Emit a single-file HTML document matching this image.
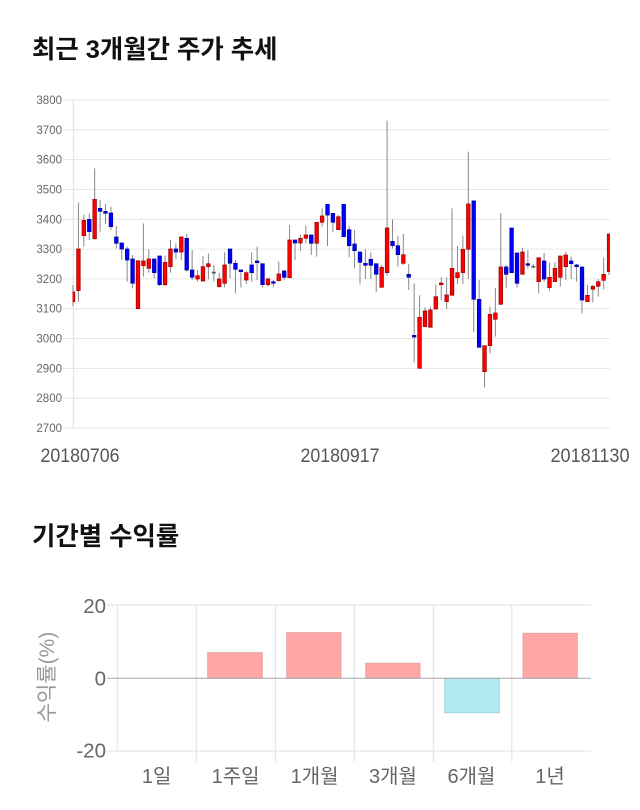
<!DOCTYPE html>
<html><head><meta charset="utf-8"><style>
html,body{margin:0;padding:0;background:#fff;}
svg{display:block;}
.t{font-family:"Liberation Sans","Noto Sans CJK KR",sans-serif;}
.w{fill:none;stroke:#888;stroke-width:1;vector-effect:non-scaling-stroke;}
.r{fill:#f00;stroke:#990000;stroke-width:0.7;vector-effect:non-scaling-stroke;}
.b{fill:#0000ff;stroke:#000099;stroke-width:0.7;vector-effect:non-scaling-stroke;}
.g{fill:#666;stroke:#555;stroke-width:0.5;vector-effect:non-scaling-stroke;}
</style></head><body>
<svg width="640" height="810" viewBox="0 0 640 810" xmlns="http://www.w3.org/2000/svg">
<rect width="640" height="810" fill="#fff"/>
<text class="t" x="32" y="58" font-size="25.4" font-weight="bold" fill="#111">최근 3개월간 주가 추세</text>
<path d="M63 100H610M63 129.8H610M63 159.6H610M63 189.5H610M63 219.3H610M63 249.1H610M63 278.9H610M63 308.7H610M63 338.5H610M63 368.4H610M63 398.2H610M63 428H610" stroke="#e6e6e6" stroke-width="1" fill="none"/>
<line x1="73.3" x2="73.3" y1="100" y2="428" stroke="#e0e0e0"/>
<g class="t" font-size="11.5" fill="#666" text-anchor="end">
<text x="62" y="104">3800</text><text x="62" y="133.8">3700</text><text x="62" y="163.6">3600</text><text x="62" y="193.5">3500</text><text x="62" y="223.3">3400</text><text x="62" y="253.1">3300</text><text x="62" y="282.9">3200</text><text x="62" y="312.7">3100</text><text x="62" y="342.5">3000</text><text x="62" y="372.4">2900</text><text x="62" y="402.2">2800</text><text x="62" y="432">2700</text>
</g>
<defs><clipPath id="cp"><rect x="72.5" y="90" width="537.5" height="350"/></clipPath></defs>
<g clip-path="url(#cp)">
<g transform="matrix(1 0 0 0.333333 0 80)">
<path class="w" d="M73 615V678M78.42 368V665M83.83 403V500M89.25 400V480M94.66 265V480M100.08 360V455M105.49 372V432M110.91 380V450M116.32 438V505M121.74 489V540M127.15 500V605M132.57 525V625M137.98 542V686M143.4 430V590M148.81 508V578M154.23 537V595M159.64 528V618M165.06 527V618M170.47 480V578M175.89 490V537M181.3 470V540M186.72 462V575M192.13 510V600M197.55 570V605M202.96 528V605M208.38 520V598M213.79 555V605M219.21 578V622M224.62 517V622M230.04 507V595M235.45 540V640M240.87 570V622M246.28 574V612M251.7 517V605M257.11 500V600M262.53 551V622M267.94 592V620M273.36 600V622M278.77 545V605M284.19 570V600M289.6 435V593M295.02 480V540M300.43 465V512M305.85 437V490M311.26 465V525M316.68 427V530M322.09 385V440M327.51 373V498M332.92 400V457M338.34 405V449M343.75 373V470M349.17 437V532M354.58 450V565M360 516V613M365.41 508V597M370.83 517V597M376.24 551V636M381.66 555V622M387.07 122V587M392.49 418V505M397.9 467V560M403.32 462V555M408.73 552V630M414.15 610V848M419.56 646V865M424.98 682V740M430.39 680V742M435.81 614V687M441.22 591V660M446.64 592V687M452.05 385V646M457.47 498V612M462.88 467V612M468.3 215V597M473.71 360V757M479.13 600V802M484.54 797V922M489.96 680V820M495.37 624V770M500.79 399V673M506.2 555V623M511.62 444V578M517.03 519V622M522.45 503V583M527.86 510V565M533.28 552V565M538.69 533V640M544.11 519V605M549.52 548V632M554.94 547V605M560.35 528V620M565.77 515V600M571.18 530V597M576.6 552V605M582.01 561V700M587.43 615V665M592.84 614V667M598.26 597V650M603.67 533V628M609.09 462V585"/>
<path class="r" d="M71.2 636h3.6v29h-3.6zM76.62 507h3.6v125h-3.6zM82.03 421h3.6v46h-3.6zM92.86 358h3.6v118h-3.6zM136.18 542h3.6v144h-3.6zM141.6 543h3.6v14h-3.6zM147.01 537h3.6v28h-3.6zM163.26 547h3.6v67h-3.6zM168.67 507h3.6v53h-3.6zM179.5 471h3.6v45h-3.6zM195.75 587h3.6v10h-3.6zM201.16 560h3.6v43h-3.6zM206.58 551h3.6v9h-3.6zM217.41 597h3.6v23h-3.6zM222.82 555h3.6v55h-3.6zM244.48 578h3.6v22h-3.6zM266.14 597h3.6v17h-3.6zM276.97 582h3.6v20h-3.6zM287.8 480h3.6v113h-3.6zM298.63 475h3.6v14h-3.6zM304.05 465h3.6v10h-3.6zM314.88 427h3.6v63h-3.6zM320.29 408h3.6v19h-3.6zM336.54 410h3.6v39h-3.6zM379.86 562h3.6v60h-3.6zM385.27 444h3.6v134h-3.6zM401.52 524h3.6v26h-3.6zM417.76 712h3.6v153h-3.6zM423.18 693h3.6v47h-3.6zM428.59 690h3.6v52h-3.6zM434.01 650h3.6v37h-3.6zM439.42 609h3.6v5h-3.6zM444.84 645h3.6v20h-3.6zM450.25 565h3.6v81h-3.6zM455.67 578h3.6v15h-3.6zM461.08 508h3.6v70h-3.6zM466.5 372h3.6v136h-3.6zM482.74 797h3.6v78h-3.6zM488.16 703h3.6v94h-3.6zM493.57 699h3.6v19h-3.6zM498.99 561h3.6v112h-3.6zM520.65 516h3.6v67h-3.6zM536.89 533h3.6v72h-3.6zM547.72 592h3.6v31h-3.6zM553.14 565h3.6v40h-3.6zM558.55 528h3.6v64h-3.6zM563.97 525h3.6v35h-3.6zM585.63 646h3.6v19h-3.6zM591.04 619h3.6v9h-3.6zM596.46 605h3.6v14h-3.6zM601.87 583h3.6v18h-3.6zM607.29 462h3.6v113h-3.6z"/>
<path class="b" d="M87.45 418h3.6v37h-3.6zM98.28 385h3.6v9h-3.6zM103.69 394h3.6v6h-3.6zM109.11 399h3.6v41h-3.6zM114.52 471h3.6v19h-3.6zM119.94 489h3.6v18h-3.6zM125.35 507h3.6v33h-3.6zM130.77 537h3.6v73h-3.6zM152.43 537h3.6v41h-3.6zM157.84 528h3.6v86h-3.6zM174.09 507h3.6v9h-3.6zM184.92 475h3.6v95h-3.6zM190.33 570h3.6v22h-3.6zM228.24 507h3.6v43h-3.6zM233.65 550h3.6v18h-3.6zM239.07 570h3.6v5h-3.6zM249.9 555h3.6v23h-3.6zM255.31 543h3.6v5h-3.6zM260.73 551h3.6v63h-3.6zM271.56 605h3.6v5h-3.6zM282.39 573h3.6v19h-3.6zM293.22 480h3.6v9h-3.6zM309.46 465h3.6v25h-3.6zM325.71 373h3.6v32h-3.6zM331.12 400h3.6v27h-3.6zM341.95 373h3.6v97h-3.6zM347.37 449h3.6v48h-3.6zM352.78 492h3.6v20h-3.6zM358.2 516h3.6v31h-3.6zM363.61 550h3.6v6h-3.6zM369.03 538h3.6v18h-3.6zM374.44 551h3.6v32h-3.6zM390.69 484h3.6v13h-3.6zM396.1 497h3.6v27h-3.6zM406.93 583h3.6v9h-3.6zM412.35 766h3.6v5h-3.6zM471.91 363h3.6v295h-3.6zM477.33 658h3.6v144h-3.6zM504.4 561h3.6v22h-3.6zM509.82 444h3.6v134h-3.6zM515.23 519h3.6v91h-3.6zM526.06 551h3.6v5h-3.6zM542.31 543h3.6v54h-3.6zM569.38 543h3.6v8h-3.6zM574.8 555h3.6v5h-3.6zM580.21 561h3.6v99h-3.6z"/>
<path class="g" d="M211.99 576h3.6v4h-3.6zM531.48 559h3.6v3h-3.6z"/>
</g>
</g>
<g class="t" font-size="19" fill="#555" text-anchor="middle">
<text x="80" y="462" textLength="79" lengthAdjust="spacingAndGlyphs">20180706</text>
<text x="340" y="462" textLength="79" lengthAdjust="spacingAndGlyphs">20180917</text>
<text x="590" y="462" textLength="79" lengthAdjust="spacingAndGlyphs">20181130</text>
</g>
<text class="t" x="32" y="545" font-size="25.4" font-weight="bold" fill="#111">기간별 수익률</text>
<path d="M107 605H591M107 751H591M117.3 605V751M196.3 605V762M275.3 605V762M354.3 605V762M433.3 605V762M511.8 605V762" stroke="#e2e2e2" stroke-width="1" fill="none"/>
<rect x="207.7" y="652.7" width="54.6" height="25.6" fill="#ffa6a6" stroke="#e6a3a3"/>
<rect x="286.7" y="632.7" width="54.3" height="45.6" fill="#ffa6a6" stroke="#e6a3a3"/>
<rect x="365.7" y="663.3" width="54.3" height="15" fill="#ffa6a6" stroke="#e6a3a3"/>
<rect x="444.7" y="678.3" width="54.6" height="34.4" fill="#b0ebf3" stroke="#a2d6de"/>
<rect x="523" y="633.3" width="54.3" height="45" fill="#ffa6a6" stroke="#e6a3a3"/>
<line x1="107" x2="591" y1="678.3" y2="678.3" stroke="#aaa" stroke-width="1"/>
<g class="t" font-size="20.5" fill="#666" text-anchor="end">
<text x="106" y="613">20</text>
<text x="106" y="685.5">0</text>
<text x="106" y="757.5">-20</text>
</g>
<text class="t" transform="translate(54,677) rotate(-90)" font-size="21" fill="#999" text-anchor="middle">수익률(%)</text>
<g class="t" font-size="20" fill="#666" text-anchor="middle">
<text x="156.6" y="783">1일</text>
<text x="235.6" y="783">1주일</text>
<text x="314.6" y="783">1개월</text>
<text x="393" y="783">3개월</text>
<text x="471.5" y="783">6개월</text>
<text x="550" y="783">1년</text>
</g>
</svg>
</body></html>
